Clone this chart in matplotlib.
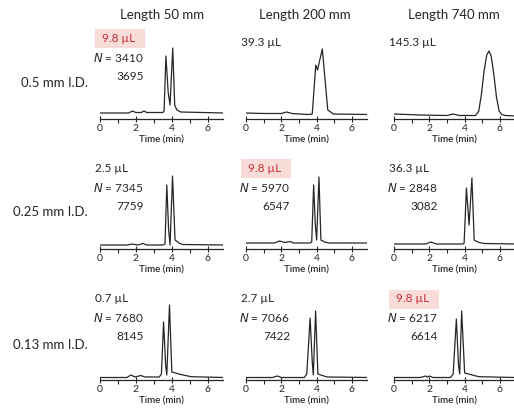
import matplotlib
matplotlib.use("Agg")
import matplotlib.pyplot as plt
from matplotlib.patches import Rectangle

plt.rcParams['font.family'] = ['Lato', 'DejaVu Sans']

# column / row labels
col_titles = ['Length 50 mm', 'Length 200 mm', 'Length 740 mm']
row_titles = ['0.5 mm I.D.', '0.25 mm I.D.', '0.13 mm I.D.']

# volume labels and plate numbers per panel (row, col); None = not shown
volumes = [['9.8 µL', '39.3 µL', '145.3 µL'],
           ['2.5 µL', '9.8 µL', '36.3 µL'],
           ['0.7 µL', '2.7 µL', '9.8 µL']]
plates1 = [['3410', None, None],
           ['7345', '5970', '2848'],
           ['7680', '7066', '6217']]
plates2 = [['3695', None, None],
           ['7759', '6547', '3082'],
           ['8145', '7422', '6614']]
highlight = [[True, False, False],
             [False, True, False],
             [False, False, True]]

# traced chromatograms: time (min), signal (arb. units)
t_r1c1 = [0, 1.0, 1.6, 1.8, 2.0, 2.3, 2.45, 2.6, 3.5, 3.57, 3.67, 3.8, 3.9, 4.05, 4.16, 4.28, 4.5, 6.9]
s_r1c1 = [6, 6, 6, 8, 6.5, 6.5, 8, 6.5, 6.5, 8, 63, 26, 14, 71, 14, 9, 7, 6]

t_r1c2 = [0, 1.0, 2.0, 2.3, 2.6, 3.5, 3.75, 3.95, 4.05, 4.32, 4.63, 4.95, 6.9]
s_r1c2 = [6, 5.5, 5.5, 7, 5.5, 4.5, 5, 54, 49, 70, 9, 5, 4.5]

t_r1c3 = [0, 1.5, 3.0, 3.35, 3.7, 4.62, 4.8, 4.95, 5.1, 5.25, 5.38, 5.5, 5.65, 5.8, 5.95, 6.1, 6.3, 6.9]
s_r1c3 = [5, 4, 3.5, 5, 3.5, 3.5, 8, 25, 48, 64, 68, 63, 45, 22, 8, 4.5, 3.5, 3]

t_r2c1 = [0, 1.5, 1.8, 2.1, 2.4, 2.6, 3.5, 3.62, 3.72, 3.82, 3.9, 4.04, 4.18, 4.4, 4.6, 6.9]
s_r2c1 = [4, 4, 5, 4, 5.5, 4, 4, 5, 64, 20, 4, 73, 9, 6, 4.5, 4]

t_r2c2 = [0, 1.6, 1.9, 2.2, 2.5, 2.7, 3.6, 3.72, 3.83, 3.92, 4.0, 4.13, 4.24, 4.5, 4.7, 6.9]
s_r2c2 = [6, 6, 8, 6.5, 7.5, 6, 6, 7, 64, 25, 9, 72, 9, 6.7, 6, 6]

t_r2c3 = [0, 1.8, 2.08, 2.4, 3.9, 3.97, 4.1, 4.25, 4.41, 4.54, 4.78, 5.1, 6.9]
s_r2c3 = [5, 5, 7, 5, 5, 6, 61, 24, 71, 9, 6.7, 5.5, 5]

t_r3c1 = [0, 1.5, 1.72, 1.95, 2.27, 2.5, 3.3, 3.42, 3.54, 3.66, 3.72, 3.87, 4.0, 4.5, 5.07, 6.9]
s_r3c1 = [2.5, 2.5, 5, 3, 4.5, 3, 3, 6, 58, 14, 5, 75, 8, 5.5, 3.3, 2.5]

t_r3c2 = [0, 1.5, 1.78, 2.0, 3.3, 3.44, 3.63, 3.75, 3.81, 3.94, 4.07, 4.59, 6.9]
s_r3c2 = [2.5, 2.5, 4, 2.5, 2.5, 6, 62, 18, 5, 69, 6, 3, 2.5]

t_r3c3 = [0, 1.5, 1.78, 1.9, 2.0, 2.2, 3.2, 3.35, 3.53, 3.65, 3.72, 3.83, 4.0, 4.8, 6.9]
s_r3c3 = [2.5, 2.5, 4, 3, 4, 2.5, 2.5, 6, 61, 15, 6, 69, 7, 3.3, 2.5]

traces = [[(t_r1c1, s_r1c1), (t_r1c2, s_r1c2), (t_r1c3, s_r1c3)],
          [(t_r2c1, s_r2c1), (t_r2c2, s_r2c2), (t_r2c3, s_r2c3)],
          [(t_r3c1, s_r3c1), (t_r3c2, s_r3c2), (t_r3c3, s_r3c3)]]

W, H = 514, 412
fig = plt.figure(figsize=(W / 100, H / 100), dpi=100)

def fx(x):
    return x / W

def fy(y):
    return 1 - y / H

col_left = [100, 246, 394]
col_width = [123, 121, 121]
row_axis = [119, 249, 380]
ax_h = 82
xmax = 6.85
ink = '#262626'

for r in range(3):
    for c in range(3):
        ax = fig.add_axes([fx(col_left[c]), fy(row_axis[r]),
                           col_width[c] / W, ax_h / H])
        t, s = traces[r][c]
        ax.plot(t, s, color=ink, lw=0.9)
        ax.set_xlim(0, xmax)
        ax.set_ylim(0, ax_h)
        for side in ['top', 'right', 'left']:
            ax.spines[side].set_visible(False)
        ax.spines['bottom'].set_linewidth(0.9)
        ax.spines['bottom'].set_color(ink)
        ax.set_yticks([])
        ax.set_xticks([0, 2, 4, 6])
        ax.set_xticks([1, 3, 5], minor=True)
        ax.tick_params(axis='x', which='major', length=4, width=0.8,
                       direction='inout', pad=1.5, labelsize=7.5, colors=ink)
        ax.tick_params(axis='x', which='minor', length=3, width=0.8,
                       direction='out', colors=ink)
        ax.set_xlabel('Time (min)', fontsize=7, fontweight='semibold',
                      labelpad=2, color=ink)

        # annotations
        xl = col_left[c] - 5
        ya = row_axis[r]
        vol_y = ya - (81 if (highlight[r][c] or plates1[r][c]) else 76)
        if highlight[r][c]:
            fig.patches.append(Rectangle((fx(col_left[c] - 5), fy(ya - 71)),
                                         50 / W, 19 / H, transform=fig.transFigure,
                                         fc='#f8dcd7', ec='none', zorder=0))
            fig.text(fx(col_left[c] + 2), fy(vol_y), volumes[r][c], fontsize=8.5,
                     color='#c8323c', va='center', ha='left')
        else:
            fig.text(fx(xl), fy(vol_y), volumes[r][c], fontsize=8.5,
                     color=ink, va='center', ha='left')
        if plates1[r][c]:
            fig.text(fx(xl - 2), fy(ya - 62), r'$N$ = ' + plates1[r][c],
                     fontsize=8.5, color=ink, va='center', ha='left')
            fig.text(fx(xl + 49), fy(ya - 43), plates2[r][c],
                     fontsize=8.5, color=ink, va='center', ha='right')

col_center = [162, 305, 454]
for c in range(3):
    fig.text(fx(col_center[c]), fy(15), col_titles[c], fontsize=9.5,
             ha='center', va='center', color=ink)

row_y = [83, 212, 345]
for r in range(3):
    fig.text(fx(88), fy(row_y[r]), row_titles[r], fontsize=9.5,
             ha='right', va='center', color=ink)

fig.savefig('out.png', dpi=100)
